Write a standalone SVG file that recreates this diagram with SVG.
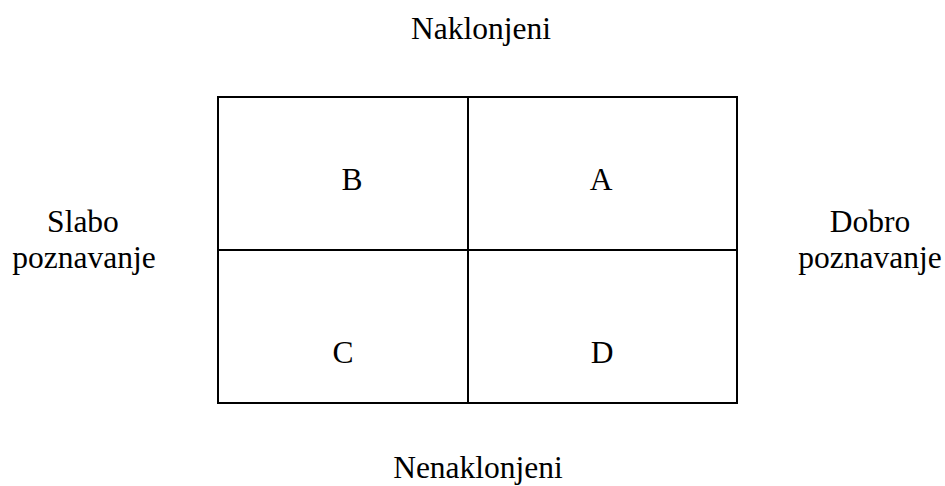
<svg xmlns="http://www.w3.org/2000/svg" width="945" height="486" viewBox="0 0 945 486">
<style>
text{font-family:"Times New Roman","Liberation Serif",Tinos,"DejaVu Serif",serif;font-size:31.5px;fill:#000;text-anchor:middle}
.ln{stroke:#000;stroke-width:2;fill:none}
</style>
<rect width="945" height="486" fill="#fff"/>
<g id="grid">
<rect id="frame" class="ln" x="218" y="97" width="519" height="306"/>
</g>
<g id="connectors">
<line class="ln" x1="468" y1="97" x2="468" y2="403"/>
<line class="ln" x1="218" y1="250" x2="737" y2="250"/>
</g>
<g id="cellB"><text x="352" y="190">B</text></g>
<g id="cellA"><text x="601" y="190">A</text></g>
<g id="cellC"><text x="343" y="363">C</text></g>
<g id="cellD"><text x="602" y="363">D</text></g>
<g id="top"><text x="481" y="39">Naklonjeni</text></g>
<g id="bottom"><text x="478" y="478">Nenaklonjeni</text></g>
<g id="left"><text x="83" y="232">Slabo</text><text x="84" y="268">poznavanje</text></g>
<g id="right"><text x="870" y="232">Dobro</text><text x="870" y="268">poznavanje</text></g>
</svg>
